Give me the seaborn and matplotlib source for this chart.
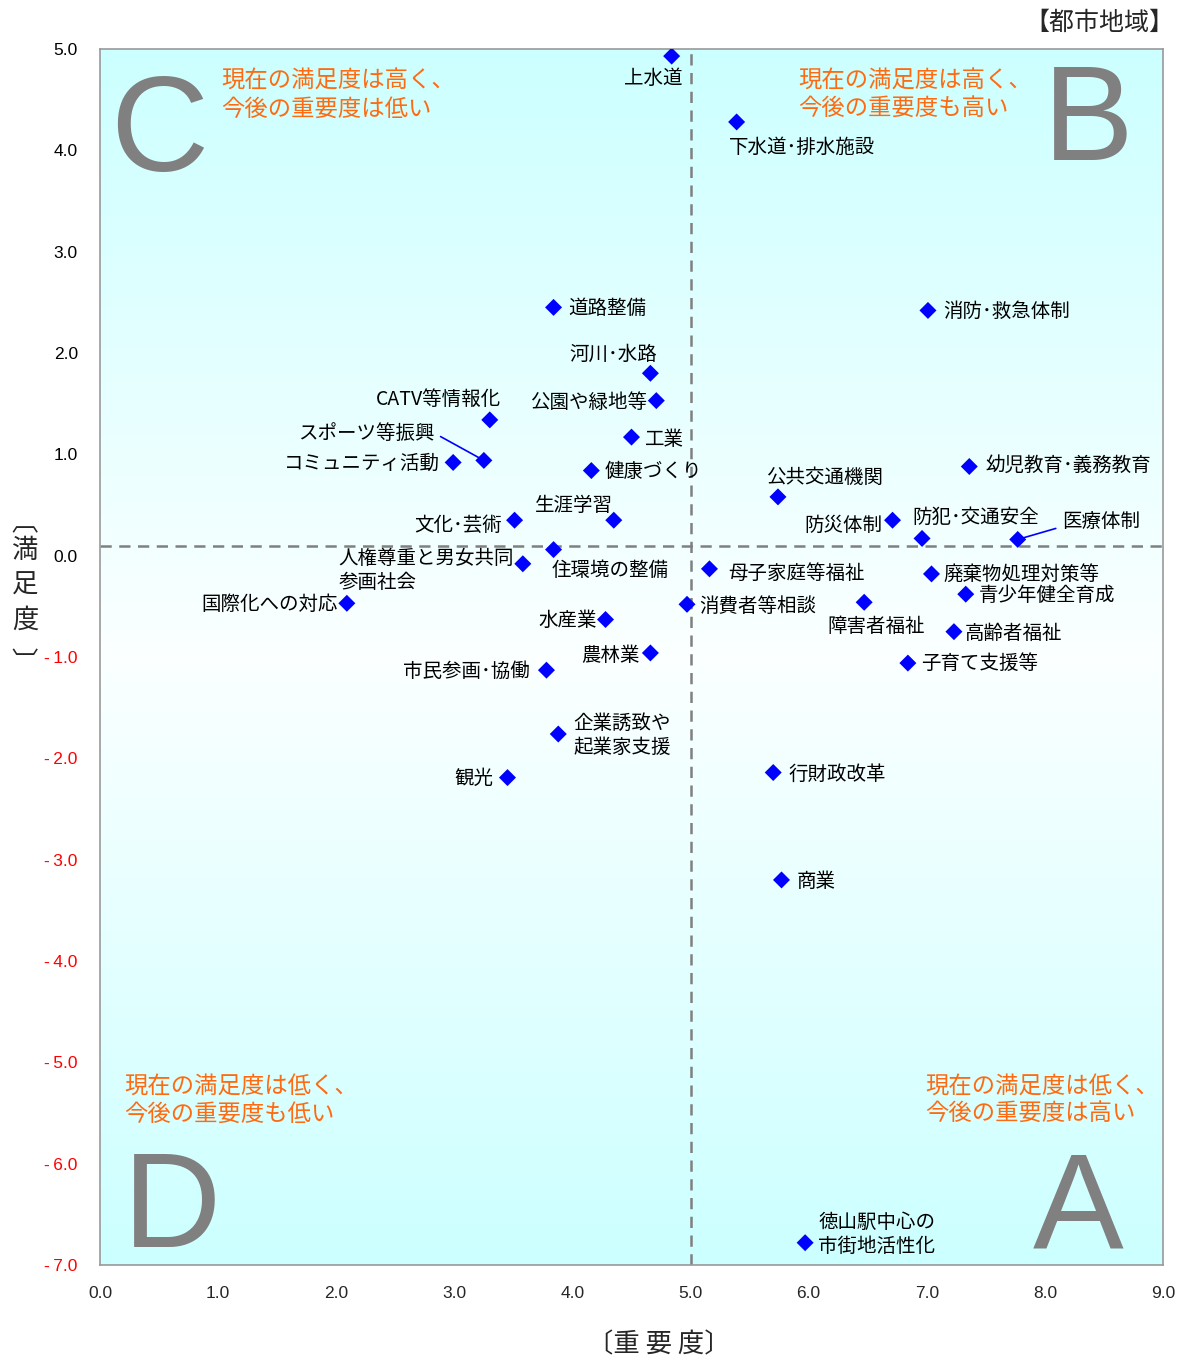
import numpy as np
import pandas as pd
import matplotlib
matplotlib.use("Agg")
import matplotlib.pyplot as plt
import seaborn as sns

# ---------------- data ----------------
labels = ["上水道", "下水道･排水施設", "道路整備", "消防･救急体制", "河川･水路", "公園や緑地等",
          "CATV等情報化", "工業", "スポーツ等振興", "コミュニティ活動", "健康づくり",
          "幼児教育･義務教育", "公共交通機関", "文化･芸術", "生涯学習", "防災体制",
          "防犯･交通安全", "医療体制", "住環境の整備", "人権尊重と男女共同\n参画社会",
          "母子家庭等福祉", "廃棄物処理対策等", "青少年健全育成", "国際化への対応",
          "消費者等相談", "障害者福祉", "水産業", "高齢者福祉", "農林業", "子育て支援等",
          "市民参画･協働", "企業誘致や\n起業家支援", "行財政改革", "観光", "商業",
          "徳山駅中心の\n市街地活性化"]
importance = [4.84, 5.39, 3.84, 7.01, 4.66, 4.71, 3.30, 4.50, 3.25, 2.99, 4.16,
              7.36, 5.74, 3.51, 4.35, 6.71, 6.96, 7.77, 3.84, 3.58,
              5.16, 7.04, 7.33, 2.09, 4.97, 6.47, 4.28, 7.23, 4.66, 6.84,
              3.78, 3.88, 5.70, 3.45, 5.77, 5.97]
satisfaction = [4.93, 4.28, 2.45, 2.42, 1.80, 1.53, 1.34, 1.17, 0.94, 0.92, 0.84,
                0.88, 0.58, 0.35, 0.35, 0.35, 0.17, 0.16, 0.06, -0.08,
                -0.13, -0.18, -0.38, -0.47, -0.48, -0.46, -0.63, -0.75, -0.96, -1.06,
                -1.13, -1.76, -2.14, -2.19, -3.20, -6.78]
x_mean = 5.0
y_mean = 0.1
x_ticks = [0, 1, 2, 3, 4, 5, 6, 7, 8, 9]
y_ticks = [5, 4, 3, 2, 1, 0, -1, -2, -3, -4, -5, -6, -7]
quadrant_letters = ["C", "B", "D", "A"]
quadrant_texts = ["現在の満足度は高く、\n今後の重要度は低い", "現在の満足度は高く、\n今後の重要度も高い",
                  "現在の満足度は低く、\n今後の重要度も低い", "現在の満足度は低く、\n今後の重要度は高い"]
title = "【都市地域】"
xlabel = "〔重 要 度〕"
ylabel_chars = ["︹", "満", "足", "度", "︺"]

# ---------------- label layout (pixels, screen-down dy) ----------------
offsets = [(11, 22, 'right'), (-8, 25, 'left'), (15, 1, 'left'), (15, 1, 'left'),
           (7, -19, 'right'), (-9, 2, 'right'), (11, -20, 'right'), (13, 2, 'left'),
           (-49, -27, 'right'), (-13, 1, 'right'), (13, 1, 'left'), (16, -1, 'left'),
           (-12, -19, 'left'), (-13, 5, 'right'), (-1, -15, 'right'), (-10, 5, 'right'),
           (-10, -21, 'left'), (44, -18, 'left'), (-2, 21, 'left'), (-184, 7, 'left'),
           (19, 5, 'left'), (12, 0, 'left'), (13, 1, 'left'), (-9, 1, 'right'),
           (12, 2, 'left'), (-37, 24, 'left'), (-9, 1, 'right'), (11, 2, 'left'),
           (-11, 3, 'right'), (13, 0, 'left'), (-17, 1, 'right'), (15, 1, 'left'),
           (15, 2, 'left'), (-14, 1, 'right'), (15, 2, 'left'), (13, -8, 'left')]
leaders = {"スポーツ等振興": (1, 0.5), "医療体制": (0, 0.25)}

sns.set_style("white")
plt.rcParams['font.family'] = ['Noto Sans CJK JP', 'DejaVu Sans']
JP = ['Noto Sans CJK JP', 'DejaVu Sans']
LAT = ['Liberation Sans', 'DejaVu Sans']

fig = plt.figure(figsize=(11.84, 13.6), dpi=100)
ax = fig.add_axes([100/1184, 1-1265/1360, 1063/1184, 1216/1360])

# background gradient
n = 400
t = np.linspace(0, 1, n)
w = 1 - np.abs(t - 0.5) * 2          # 1 at middle, 0 at edges
cyan = np.array([0.80, 1.0, 1.0])
white = np.array([0.985, 1.0, 1.0])
grad = (cyan[None, :] * (1 - w[:, None]) + white[None, :] * w[:, None])[:, None, :]
ax.imshow(grad, extent=[0, 9, -7, 5], aspect='auto', zorder=0, origin='upper')

df = pd.DataFrame({"importance": importance, "satisfaction": satisfaction, "label": labels})
sns.scatterplot(data=df, x="importance", y="satisfaction", marker='D', s=75,
                color='#0000FF', edgecolor='none', ax=ax, zorder=5, legend=False)

ax.axvline(x_mean, color='#808080', lw=1.8, ls=(0, (4.5, 3)), zorder=2)
ax.axhline(y_mean, color='#808080', lw=1.8, ls=(0, (4.5, 3)), zorder=2)

for lab, xv, yv, (dx, dy, ha) in zip(labels, importance, satisfaction, offsets):
    kw = {}
    if lab in leaders:
        kw['arrowprops'] = dict(arrowstyle='-', color='#0000FF', lw=1.2, shrinkA=2, shrinkB=0,
                                relpos=leaders[lab])
    ax.annotate(lab, xy=(xv, yv), xytext=(dx, -dy), textcoords='offset pixels',
                ha=ha, va='center', fontsize=14, family=JP, color='black',
                linespacing=1.2, zorder=6, **kw)

# quadrant texts
qpos = [(0.1138, 0.9620), (0.6566, 0.9620), (0.0226, 0.1355), (0.776, 0.1355)]
for txt, (px, py) in zip(quadrant_texts, qpos):
    ax.text(px, py, txt, transform=ax.transAxes, ha='left', va='center', fontsize=16.8,
            family=JP, color='#FF6A10', linespacing=1.28, zorder=4)
lpos = [(0.0555, 0.8997), (0.930, 0.9087), (0.0677, 0.0148), (0.920, 0.0148)]
for letter, (px, py) in zip(quadrant_letters, lpos):
    ax.text(px, py, letter, transform=ax.transAxes, ha='center', va='baseline', fontsize=98,
            family=LAT, color='#808080', zorder=3)

ax.set_xlim(0, 9)
ax.set_ylim(-7, 5)
ax.set_xticks(x_ticks)
ax.set_yticks(y_ticks)
ax.set_xticklabels([f"{v:.1f}" for v in x_ticks], family=LAT, fontsize=12.5)
ax.set_yticklabels([f"{v:.1f}".replace("-", "-\u2009") if v < 0 else f"{v:.1f}" for v in y_ticks],
                   family=LAT, fontsize=12.5)
for lbl, v in zip(ax.get_yticklabels(), y_ticks):
    lbl.set_color('#FF0000' if v < 0 else 'black')
ax.tick_params(axis='x', length=0, pad=15)
ax.tick_params(axis='y', length=0, pad=16)
ax.set_xlabel("")
ax.set_ylabel("")
for sp in ax.spines.values():
    sp.set_color('#999999')
    sp.set_linewidth(1.2)

fig.text(1174/1184, 1-23/1360, title, ha='right', va='center', fontsize=18, family=JP)
fig.text(659/1184, 1-1345/1360, xlabel, ha='center', va='center', fontsize=19, family=JP)
ychar_y = [524, 550, 585, 620, 663]
for ch, py in zip(ylabel_chars, ychar_y):
    fig.text(25/1184, 1-py/1360, ch, ha='center', va='center', fontsize=19, family=JP)

fig.savefig("out.png", dpi=100)
